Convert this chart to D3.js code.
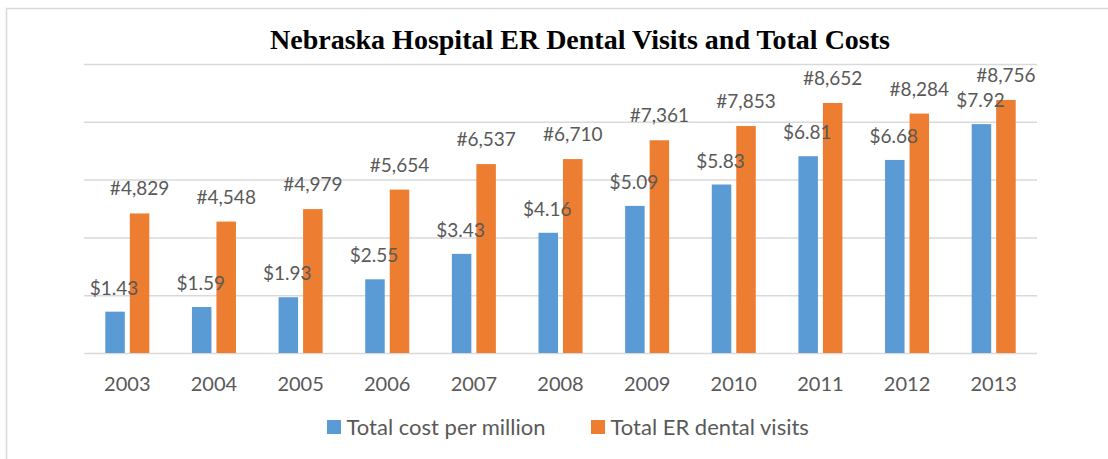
<!DOCTYPE html>
<html>
<head>
<meta charset="utf-8">
<script src="https://cdn.jsdelivr.net/npm/d3@7/dist/d3.min.js"></script>
<style>
	body { margin: 0; background: #fff; }
	text { font-family: Lato, "Open Sans", sans-serif; fill: #595959; }
	.title { font-family: "Liberation Serif", "Times New Roman", serif; font-weight: bold; fill: #000; }
	.grid line { stroke: #d9d9d9; stroke-width: 1.5; }
	.grid .domain { display: none; }
	.x.axis .domain, .x.axis line { display: none; }
</style>
</head>
<body>
<div id="graphic"></div>
<script>
// Data
var YEARS = ['2003', '2004', '2005', '2006', '2007', '2008', '2009', '2010', '2011', '2012', '2013'];
var COST_MILLIONS = [1.43, 1.59, 1.93, 2.55, 3.43, 4.16, 5.09, 5.83, 6.81, 6.68, 7.92];
var ER_VISITS = [4829, 4548, 4979, 5654, 6537, 6710, 7361, 7853, 8652, 8284, 8756];
var SERIES_NAMES = ['Total cost per million', 'Total ER dental visits'];
var GRID_TICKS = [0, 2000, 4000, 6000, 8000, 10000];

var WIDTH = 1108;
var HEIGHT = 459;
var COLORS = ['#5b9bd5', '#ed7d31'];

var margins = { top: 64, right: 71, bottom: 106, left: 84 };
var chartWidth = WIDTH - margins.left - margins.right;
var chartHeight = HEIGHT - margins.top - margins.bottom;

var svg = d3.select('#graphic').append('svg')
	.attr('width', WIDTH)
	.attr('height', HEIGHT);

// outer frame
svg.append('rect')
	.attr('x', 6.5)
	.attr('y', 8.5)
	.attr('width', WIDTH + 10)
	.attr('height', HEIGHT + 10)
	.attr('fill', 'none')
	.attr('stroke', '#d9d9d9')
	.attr('stroke-width', 1.5);

svg.append('text')
	.attr('class', 'title')
	.attr('x', 580)
	.attr('y', 49)
	.attr('text-anchor', 'middle')
	.style('font-size', '28px')
	.text('Nebraska Hospital ER Dental Visits and Total Costs');

var chart = svg.append('g')
	.attr('transform', 'translate(' + margins.left + ',' + margins.top + ')');

var xScale = d3.scaleBand()
	.domain(YEARS)
	.range([0, chartWidth]);

var yVisits = d3.scaleLinear()
	.domain([0, 10000])
	.range([chartHeight, 0]);

// cost bars share the same grid, 1 million = 1000 visits
var yCost = d3.scaleLinear()
	.domain([0, 10])
	.range([chartHeight, 0]);

chart.append('g')
	.attr('class', 'grid')
	.call(d3.axisLeft(yVisits)
		.tickValues(GRID_TICKS)
		.tickSize(-chartWidth)
		.tickFormat(''));

var xAxis = chart.append('g')
	.attr('class', 'x axis')
	.attr('transform', 'translate(0,' + chartHeight + ')')
	.call(d3.axisBottom(xScale).tickSize(0).tickPadding(0));

xAxis.selectAll('text')
	.attr('dy', null)
	.attr('y', 38)
	.style('font-size', '20px')
	.style('font-family', 'Lato, sans-serif')
	.style('fill', '#595959');

var barWidth = 19.5;
var barGap = 5;

var rows = YEARS.map(function(y, i) {
	return { year: y, cost: COST_MILLIONS[i], visits: ER_VISITS[i] };
});

var groups = chart.selectAll('.year')
	.data(rows)
	.enter().append('g')
	.attr('class', 'year')
	.attr('transform', function(d) {
		return 'translate(' + (xScale(d.year) + xScale.bandwidth() / 2) + ',0)';
	});

groups.append('rect')
	.attr('x', -barWidth - barGap / 2)
	.attr('y', function(d) { return yCost(d.cost); })
	.attr('width', barWidth)
	.attr('height', function(d) { return chartHeight - yCost(d.cost); })
	.attr('fill', COLORS[0]);

groups.append('rect')
	.attr('x', barGap / 2)
	.attr('y', function(d) { return yVisits(d.visits); })
	.attr('width', barWidth)
	.attr('height', function(d) { return chartHeight - yVisits(d.visits); })
	.attr('fill', COLORS[1]);

var fmtVisits = d3.format(',');

groups.append('text')
	.attr('x', -barWidth / 2 - barGap / 2 - 1)
	.attr('y', function(d) { return yCost(d.cost) - 17; })
	.attr('text-anchor', 'middle')
	.style('font-size', '19px')
	.text(function(d) { return '$' + d.cost.toFixed(2); });

groups.append('text')
	.attr('x', barWidth / 2 + barGap / 2)
	.attr('y', function(d) { return yVisits(d.visits) - 18; })
	.attr('text-anchor', 'middle')
	.style('font-size', '19px')
	.text(function(d) { return '#' + fmtVisits(d.visits); });

// legend
var legendX = [327, 591];
var legend = svg.selectAll('.legend')
	.data(SERIES_NAMES)
	.enter().append('g')
	.attr('class', 'legend')
	.attr('transform', function(d, i) { return 'translate(' + legendX[i] + ',420)'; });

legend.append('rect')
	.attr('width', 14)
	.attr('height', 14)
	.attr('fill', function(d, i) { return COLORS[i]; });

legend.append('text')
	.attr('x', 19.5)
	.attr('y', 15)
	.style('font-size', '22px')
	.text(function(d) { return d; });
</script>
</body>
</html>
